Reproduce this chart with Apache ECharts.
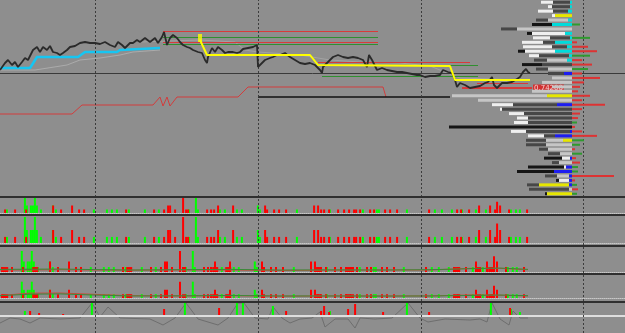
<!DOCTYPE html>
<html>
<head>
<meta charset="utf-8">
<script src="https://cdn.jsdelivr.net/npm/echarts@6/dist/echarts.min.js"></script>
<style>
  html, body { margin: 0; padding: 0; background: #8e8e8e; }
  #chart { width: 625px; height: 333px; }
</style>
</head>
<body>
<div id="chart"></div>
<script>
// ---- price pane ----
const priceT = [0,5,8,12,15,18,22,25,28,33,37,40,43,47,50,53,57,60,63,67,70,75,80,85,90,95,100,105,110,115,118,122,125,130,133,137,140,145,150,155,158,162,164,167,170,173,177,180,183,187,190,193,198,202,205,207,208,212,215,218,222,225,228,233,237,240,243,248,253,257,258,262,265,270,273,277,280,285,290,295,300,305,310,315,320,322,323,327,330,333,338,343,348,353,358,363,367,369,372,377,382,387,392,397,402,407,412,417,420,425,430,435,440,443,445,448,452,455,457,460,465,470,475,480,485,488,492,494,497,502,507,512,517,520,523,526,528,530];
const priceP = [0.7438,0.7445,0.7448,0.7443,0.7446,0.7441,0.7446,0.7450,0.7448,0.7458,0.7461,0.7456,0.7461,0.7458,0.7462,0.7456,0.7455,0.7453,0.7455,0.7458,0.7461,0.7462,0.7465,0.7466,0.7465,0.7465,0.7464,0.7466,0.7463,0.7461,0.7466,0.7463,0.7460,0.7465,0.7465,0.7468,0.7466,0.7470,0.7466,0.7470,0.7465,0.7471,0.7476,0.7463,0.7470,0.7473,0.7470,0.7466,0.7463,0.7461,0.7460,0.7458,0.7456,0.7455,0.7448,0.7445,0.7451,0.7460,0.7456,0.7461,0.7458,0.7455,0.7456,0.7456,0.7455,0.7456,0.7459,0.7460,0.7461,0.7463,0.7441,0.7445,0.7448,0.7450,0.7451,0.7453,0.7453,0.7455,0.7451,0.7448,0.7445,0.7444,0.7445,0.7443,0.7438,0.7435,0.7441,0.7445,0.7448,0.7451,0.7453,0.7451,0.7450,0.7451,0.7450,0.7448,0.7441,0.7453,0.7448,0.7438,0.7440,0.7438,0.7437,0.7436,0.7436,0.7435,0.7434,0.7433,0.7433,0.7431,0.7432,0.7432,0.7433,0.7438,0.7440,0.7436,0.7435,0.7428,0.7421,0.7425,0.7423,0.7420,0.7421,0.7422,0.7425,0.7426,0.7431,0.7423,0.7420,0.7425,0.7425,0.7426,0.7429,0.7431,0.7436,0.7439,0.7436,0.7435];

const cyanT = [0,30,37,78,85,117,120,160];
const cyanP = [0.7440,0.7440,0.7451,0.7451,0.7456,0.7456,0.7458,0.7460];
const slowT = [0,35,67,80,100,120,133,160];
const slowP = [0.7438,0.7438,0.7443,0.7448,0.7450,0.7453,0.7456,0.7458];
const ghostT = [140,200,235,245,258,300,330,360,400,430,460,520];
const ghostP = [0.7466,0.7468,0.7466,0.7458,0.7456,0.7453,0.7448,0.7446,0.7445,0.7442,0.7430,0.7428];
const yellowT = [200,207,310,318,450,455,530];
const yellowP = [0.7468,0.7453,0.7453,0.7443,0.7442,0.7428,0.7428];
const stepT = [0,72,82,147,153,160,163,167,170,177,238,248,383,386];
const stepP = [0.7394,0.7394,0.7403,0.7403,0.7403,0.7411,0.7402,0.7411,0.7402,0.7411,0.7411,0.7421,0.7421,0.7411];

// level segments: [from, to, price]
const redLevels = [[163,378,0.7477],[163,378,0.7466],[318,470,0.7446],[477,528,0.7425]];
const greenLevels = [[163,378,0.7471],[163,378,0.7464],[318,478,0.7443],[322,478,0.7432]];
const blackLevels = [[258,450,0.7411]];
const greyLevels = [[0,625,0.7435]];
const markedLevel = [462,532,0.7420];
const markedLabel = '0.74200';
const pinT = 200, pinP = 0.7470;

// ---- volume profile (rows top to bottom) ----
const profCyan   = [2,2,4,0,4,20,0,7,2,17,5,17,3,5,0,0,0,0,0,0,0,0,0,0,0,0,0,0,0,0,0,0,0,0,0,0,0,0,0,0,0,0,0,0];
const profBlue   = [0,0,0,0,0,0,0,0,0,0,0,0,0,0,0,0,8,0,0,0,0,0,0,15,0,0,0,0,0,2,17,0,0,0,0,2,0,6,18,3,3,3,0,0];
const profYellow = [0,0,0,17,0,0,0,0,0,0,0,0,0,0,0,0,0,0,0,0,0,25,0,0,0,0,0,0,0,0,0,9,0,0,0,0,0,0,0,0,0,30,0,25];
const profLight  = [0,0,0,0,20,0,55,0,0,0,0,0,0,20,0,24,0,20,30,20,40,95,94,0,0,0,0,0,0,0,0,17,26,24,12,0,13,0,0,12,0,0,3,0];
const profDark   = [17,18,15,0,12,0,16,0,20,12,15,0,30,13,30,12,16,0,0,0,0,0,0,44,70,48,44,44,0,44,11,20,20,9,12,0,7,0,0,12,0,12,40,0];
const profWhite  = [12,4,15,3,0,0,0,33,17,21,29,30,10,0,0,0,0,0,0,0,0,0,0,21,2,15,11,14,0,15,16,0,0,0,0,8,0,2,0,0,10,0,0,0];
const profBlack  = [0,0,0,0,0,20,0,5,0,0,0,7,0,0,20,0,0,0,0,0,0,0,0,0,0,0,0,0,123,0,0,0,0,0,0,18,0,36,37,0,3,0,0,2];
const sideRed    = [0,0,0,0,0,0,0,0,0,5,16,25,0,10,20,0,10,28,12,8,6,18,10,33,10,8,6,0,3,10,25,0,0,3,0,4,8,0,0,42,3,0,6,0];
const sideGreen  = [0,0,0,0,0,8,0,0,18,0,0,0,18,0,0,16,0,0,0,0,0,0,0,0,0,0,0,5,0,0,0,12,8,0,10,0,0,6,6,0,0,5,0,5];

// ---- volume panes ----
const volT = [0,4,8,14,25,26,28,32,34,36,38,42,52,54,57,60,71,78,83,95,108,113,118,125,130,146,153,160,163,167,169,174,182,185,187,190,197,199,206,210,213,217,221,226,232,238,243,259,261,264,266,273,278,285,298,313,317,320,323,328,331,337,343,348,353,355,359,364,369,373,378,380,384,389,396,408,428,436,443,453,456,460,463,468,477,478,487,489,491,494,496,499,508,512,517,521,526];
const volV = [150,150,150,150,150,640,320,320,320,640,320,150,320,320,150,150,320,150,150,150,150,150,150,150,150,150,150,150,150,320,320,150,640,150,150,150,640,150,150,150,150,320,150,150,320,150,150,320,150,320,150,150,150,150,150,320,320,150,150,150,150,150,150,150,150,150,150,150,150,150,150,150,150,150,150,150,150,150,150,150,150,150,150,150,150,320,150,320,150,150,480,320,150,150,150,150,150];
const volUp = [1,0,1,0,0,1,1,1,1,1,1,1,0,1,1,0,0,0,0,1,1,1,1,0,1,1,0,1,0,0,0,0,0,0,0,1,1,1,0,0,0,0,1,1,0,1,1,1,1,0,0,0,0,0,1,0,0,0,0,0,1,0,0,0,0,0,0,1,0,0,1,1,0,0,0,1,0,1,1,1,0,0,1,0,1,0,1,0,1,0,0,0,0,1,1,1,0];
const blockT = [3,33,127,213,226,316,346,455,476,489];
const blockV = [150,150,150,150,150,150,150,150,150,150];
const maT = [0,30,60,90,130,180,230,280,330,380,430,470,500,528];
const ma3Red = [60,60,70,60,55,60,60,45,55,60,60,110,110,70];
const ma3Green = [80,85,90,75,60,70,80,60,65,60,70,100,120,80];
const ma4Red = [100,190,195,150,90,80,90,70,80,80,80,120,110,80];
const ma4Green = [90,150,160,120,80,85,100,80,80,75,80,100,115,90];

// ---- oscillator pane ----
const oscT = [0,10,20,30,40,60,80,92,100,108,120,150,163,175,186,198,218,228,238,244,255,268,273,282,290,300,312,320,325,335,348,355,360,375,392,408,420,428,445,470,480,487,492,500,509,513,520,528];
const oscV = [-7,-2,-3,-7,-2,-3,-2,13,-1,9,-2,-3,-9,-2,13,-3,-9,-2,13,13,-2,-3,9,-2,-7,-3,-2,4,-11,-3,-3,-12,-2,-3,-2,13,-2,-6,-3,-4,-3,-6,13,-3,-9,5,-2,-2];
const oscBarT = [26,29,38,62,93,163,186,218,238,244,274,285,320,323,328,331,347,354,382,408,428,492,509,512,521];
const oscBarV = [5,5,3,2,13,7,14,8,14,13,10,5,5,10,4,5,7,12,4,13,4,14,8,7,4];
const oscBarUp = [1,0,0,0,1,0,1,0,1,1,1,0,0,0,0,1,0,0,0,1,0,1,0,1,1];

const separatorT = [95,258,421,583];

// ---------------------------------------------------------------
const zip = (xs, ys) => xs.map((x, i) => [x, ys[i]]);
const pick = (xs, ys, flags, want) => xs.map((x, i) => [x, ys[i], flags[i]]).filter(d => d[2] === want).map(d => [d[0], d[1]]);
const segs = (list, lineStyle) => list.map(s => [{ coord: [s[0], s[2]], lineStyle }, { coord: [s[1], s[2]] }]);
const rows = profCyan.map((_, i) => 'r' + i);

const GREEN = '#00ff00';
const RED = '#ff0000';

const chart = echarts.init(document.getElementById('chart'), null, { renderer: 'canvas' });

// panes: 0 main, 1-4 volume, 5 oscillator, 6 profile, 7 side, 8 overlay
const grids = [
  { left: 0, right: 0, top: 0, height: 196 },
  { left: 0, right: 0, top: 198, height: 15 },
  { left: 0, right: 0, top: 216, height: 27 },
  { left: 0, right: 0, top: 247, height: 25 },
  { left: 0, right: 0, top: 275, height: 23 },
  { left: 0, right: 0, top: 302, height: 31 },
  { left: 400, right: 53, top: 0, height: 196 },
  { left: 572, right: 0, top: 0, height: 196 },
  { left: 0, right: 0, top: 0, height: 333 }
];

const timeAxis = (i, showLine) => ({
  type: 'value', gridIndex: i, min: 0, max: 625,
  axisLine: { show: showLine, onZero: false, lineStyle: { color: '#c8c8c8', type: 'dotted', width: 1 } },
  axisTick: { show: false }, axisLabel: { show: false }, splitLine: { show: false }
});
const plainY = (i, min, max) => ({
  type: 'value', gridIndex: i, min, max, show: false, splitLine: { show: false }
});

const xAxes = [
  timeAxis(0, false), timeAxis(1, true), timeAxis(2, true), timeAxis(3, true),
  timeAxis(4, true), timeAxis(5, false),
  { type: 'value', gridIndex: 6, min: 0, max: 172, inverse: true, show: false },
  { type: 'value', gridIndex: 7, min: 0, max: 53, show: false },
  timeAxis(8, false)
];
const yAxes = [
  plainY(0, 0.7312, 0.7508),
  plainY(1, 0, 640),
  plainY(2, 0, 665),
  plainY(3, 0, 760),
  plainY(4, 0, 900),
  plainY(5, -17, 14),
  { type: 'category', gridIndex: 6, data: rows, inverse: true, show: false },
  { type: 'category', gridIndex: 7, data: rows, inverse: true, show: false },
  plainY(8, 0, 1)
];

const line = (name, data, color, width, extra) => Object.assign({
  name, type: 'line', xAxisIndex: 0, yAxisIndex: 0, data, symbol: 'none',
  lineStyle: { color, width }, silent: true
}, extra || {});

const series = [
  // level lines
  {
    type: 'line', xAxisIndex: 0, yAxisIndex: 0, data: [], z: 2,
    markLine: {
      silent: true, symbol: 'none', animation: false, label: { show: false },
      data: [
        ...segs(greyLevels, { color: '#3a3a3a', width: 1, type: 'solid' }),
        ...segs(redLevels, { color: '#d83a3a', width: 1, type: 'solid' }),
        ...segs(greenLevels, { color: '#2f8f2f', width: 1, type: 'solid' }),
        ...segs(blackLevels, { color: '#111111', width: 1.5, type: 'solid' }),
        [
          {
            coord: [markedLevel[0], markedLevel[2]],
            lineStyle: { color: '#d83a3a', width: 2, type: 'solid' },
            label: {
              show: true, position: 'end', formatter: markedLabel, distance: 1,
              fontSize: 7, fontFamily: 'DejaVu Sans', color: '#f6d0d0',
              backgroundColor: '#d03030', padding: [0, 1, 0, 1]
            }
          },
          { coord: [markedLevel[1], markedLevel[2]] }
        ]
      ]
    }
  },
  line('slow', zip(slowT, slowP), '#ababab', 1, { z: 3 }),
  line('ghost', zip(ghostT, ghostP), '#a3a3a3', 1, { z: 3 }),
  line('cyan', zip(cyanT, cyanP), '#16c6f2', 2.5, { z: 4 }),
  line('step', zip(stepT, stepP), '#d23c3c', 1, { z: 4 }),
  line('yellow', zip(yellowT, yellowP), '#ffff00', 2, { z: 6 }),
  line('price', zip(priceT, priceP), '#2a2a2a', 1.8, { z: 5 }),
  {
    type: 'scatter', xAxisIndex: 0, yAxisIndex: 0, data: [[pinT, pinP]], symbol: 'rect',
    symbolSize: [4, 8], itemStyle: { color: '#ffff00' }, silent: true, z: 7
  },

  // volume panes
  ...[1, 2, 3, 4].flatMap(k => [
    { type: 'bar', xAxisIndex: k, yAxisIndex: k, data: pick(volT, volV, volUp, 1), barWidth: 2, itemStyle: { color: GREEN }, silent: true },
    { type: 'bar', xAxisIndex: k, yAxisIndex: k, data: pick(volT, volV, volUp, 0), barWidth: 2, itemStyle: { color: RED }, silent: true }
  ]),
  ...[3, 4].map(k => ({
    type: 'bar', xAxisIndex: k, yAxisIndex: k, data: zip(blockT, blockV), barWidth: 6,
    itemStyle: { color: RED }, silent: true
  })),
  line('ma3r', zip(maT, ma3Red), '#c84a3a', 1, { xAxisIndex: 3, yAxisIndex: 3, z: 4 }),
  line('ma3g', zip(maT, ma3Green), '#3a8a3a', 1, { xAxisIndex: 3, yAxisIndex: 3, z: 4 }),
  line('ma4r', zip(maT, ma4Red), '#c84a3a', 1, { xAxisIndex: 4, yAxisIndex: 4, z: 4 }),
  line('ma4g', zip(maT, ma4Green), '#3a8a3a', 1, { xAxisIndex: 4, yAxisIndex: 4, z: 4 }),

  // oscillator pane
  line('osc', zip(oscT, oscV), '#6e6e6e', 1, {
    xAxisIndex: 5, yAxisIndex: 5, z: 3,
    markLine: {
      silent: true, symbol: 'none', label: { show: false },
      lineStyle: { color: '#dedede', width: 2, type: 'solid' },
      data: [[{ coord: [0, 0] }, { coord: [625, 0] }]]
    }
  }),
  { type: 'bar', xAxisIndex: 5, yAxisIndex: 5, data: pick(oscBarT, oscBarV, oscBarUp, 1), barWidth: 2, itemStyle: { color: GREEN }, silent: true, z: 4 },
  { type: 'bar', xAxisIndex: 5, yAxisIndex: 5, data: pick(oscBarT, oscBarV, oscBarUp, 0), barWidth: 2, itemStyle: { color: RED }, silent: true, z: 4 },

  // volume profile
  ...[
    [profCyan, '#00dcdc'], [profBlue, '#1c1cf0'], [profYellow, '#e6e600'],
    [profLight, '#c6c6c6'], [profDark, '#474747'], [profWhite, '#efefef'], [profBlack, '#151515']
  ].map(([d, c]) => ({
    type: 'bar', xAxisIndex: 6, yAxisIndex: 6, stack: 'profile', data: d, barWidth: 3,
    itemStyle: { color: c }, silent: true, z: 8
  })),
  { type: 'bar', xAxisIndex: 7, yAxisIndex: 7, stack: 'side', data: sideRed, barWidth: 2, itemStyle: { color: '#dd3333' }, silent: true, z: 8 },
  { type: 'bar', xAxisIndex: 7, yAxisIndex: 7, stack: 'side', data: sideGreen, barWidth: 2, itemStyle: { color: '#2f9a2f' }, silent: true, z: 8 },

  // period separators
  {
    type: 'line', xAxisIndex: 8, yAxisIndex: 8, data: [], z: 9,
    markLine: {
      silent: true, symbol: 'none', label: { show: false },
      lineStyle: { color: '#3c3c3c', width: 1, type: [2, 2] },
      data: separatorT.map(t => [{ coord: [t, 0] }, { coord: [t, 1] }])
    }
  }
];

chart.setOption({
  backgroundColor: '#8e8e8e',
  animation: false,
  grid: grids,
  xAxis: xAxes,
  yAxis: yAxes,
  series,
  graphic: [196, 214, 245, 273, 301].map(y => ({
    type: 'rect', silent: true, z: 100,
    shape: { x: 0, y, width: 625, height: 2 },
    style: { fill: '#2f2f2f' }
  }))
});
</script>
</body>
</html>
